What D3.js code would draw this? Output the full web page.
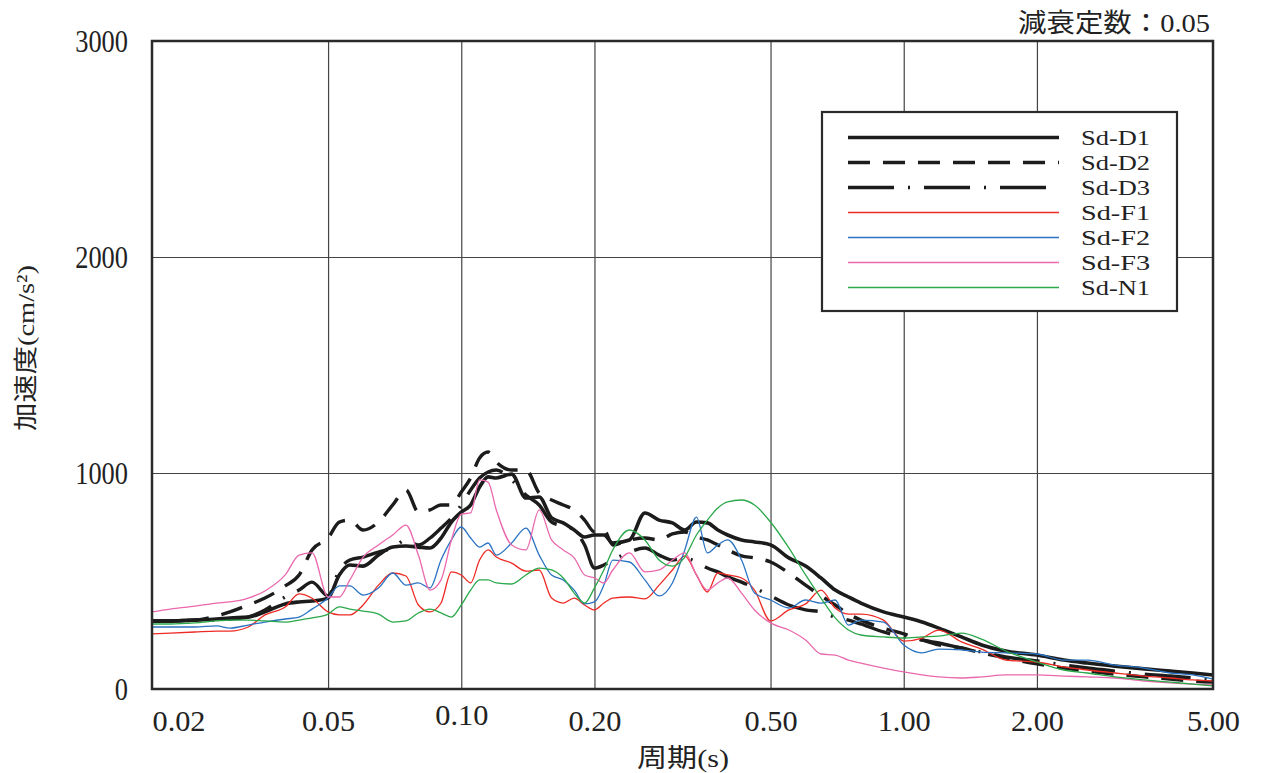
<!DOCTYPE html>
<html lang="ja">
<head>
<meta charset="UTF-8">
<title>加速度応答スペクトル</title>
<script src="https://cdn.jsdelivr.net/npm/d3@7"></script>
<style>
  body { margin: 0; background: #fff; }
  svg text { font-family: "Liberation Serif", "Noto Sans CJK JP", serif; fill: #222; }
</style>
</head>
<body>
<div id="chart"></div>
<script>
// periods (s), shared by every series
const periods = [0.02, 0.022, 0.025, 0.028, 0.03, 0.033, 0.036, 0.04, 0.043, 0.046,
  0.05, 0.053, 0.056, 0.06, 0.065, 0.07, 0.075, 0.08, 0.085, 0.09, 0.095,
  0.1, 0.105, 0.11, 0.115, 0.12, 0.13, 0.14, 0.15, 0.16, 0.17, 0.18, 0.19,
  0.2, 0.21, 0.22, 0.24, 0.26, 0.28, 0.3, 0.32, 0.34, 0.36, 0.38, 0.4, 0.43, 0.46,
  0.5, 0.55, 0.6, 0.65, 0.7, 0.75, 0.8, 0.9, 1.0, 1.1, 1.2, 1.35, 1.5, 1.7,
  2.0, 2.3, 2.6, 3.0, 3.5, 4.0, 4.5, 5.0];

// acceleration (cm/s2)
const sdD1 = [315, 315, 319, 324, 329, 333, 357, 394, 403, 407,
  421, 528, 574, 569, 620, 657, 662, 657, 653, 699, 773,
  819, 852, 935, 982, 977, 995, 884, 889, 792, 769, 736, 704,
  713, 713, 676, 690, 815, 782, 769, 736, 773, 769, 736, 713, 690, 681,
  667, 607, 569, 514, 458, 426, 398, 357, 333, 310, 282, 241, 204, 176,
  157, 134, 120, 106, 93, 83, 74, 65];
const sdD2 = [315, 315, 319, 338, 357, 389, 421, 477, 528, 644,
  699, 773, 782, 736, 773, 852, 921, 820, 829, 852, 852,
  912, 977, 1070, 1097, 1051, 1014, 1014, 907, 875, 852, 829, 782,
  727, 736, 667, 690, 699, 690, 718, 727, 704, 690, 667, 644, 616, 607,
  588, 537, 481, 431, 389, 347, 319, 282, 255, 227, 204, 190, 167, 144,
  116, 97, 83, 69, 56, 46, 37, 32];
const sdD3 = [315, 315, 319, 319, 324, 333, 366, 426, 458, 495,
  431, 551, 597, 611, 634, 653, 690, 667, 699, 745, 792,
  852, 921, 977, 1005, 1014, 968, 898, 852, 773, 755, 736, 667,
  560, 574, 597, 634, 653, 620, 597, 607, 588, 560, 542, 519, 495, 468,
  431, 389, 366, 357, 333, 319, 301, 264, 241, 227, 213, 190, 171, 148,
  130, 111, 97, 83, 69, 60, 51, 42];
const sdF1 = [255, 259, 264, 268, 268, 287, 343, 380, 440, 420,
  357, 343, 343, 389, 481, 537, 523, 389, 357, 398, 542,
  528, 491, 597, 644, 611, 583, 546, 551, 421, 398, 421, 389,
  366, 398, 421, 426, 417, 481, 551, 616, 528, 449, 537, 528, 514, 458,
  315, 366, 394, 458, 375, 347, 347, 319, 222, 236, 273, 218, 185, 134,
  125, 102, 88, 74, 60, 51, 42, 37];
const sdF2 = [287, 287, 287, 292, 282, 296, 310, 324, 333, 370,
  421, 477, 477, 435, 468, 537, 481, 491, 468, 597, 690,
  750, 699, 657, 676, 620, 676, 745, 620, 528, 505, 458, 394,
  403, 481, 597, 588, 505, 431, 491, 644, 796, 630, 667, 690, 597, 444,
  412, 375, 412, 398, 412, 296, 319, 310, 204, 167, 185, 181, 171, 167,
  162, 134, 134, 111, 97, 74, 65, 46];
const sdF3 = [357, 370, 384, 398, 403, 421, 454, 528, 620, 630,
  426, 426, 505, 611, 667, 713, 759, 620, 458, 505, 690,
  810, 815, 968, 958, 829, 667, 644, 829, 690, 644, 607, 528,
  514, 491, 551, 630, 542, 551, 597, 630, 528, 458, 491, 514, 444, 366,
  306, 273, 227, 162, 157, 134, 120, 97, 79, 65, 56, 51, 56, 65,
  65, 60, 56, 51, 37, 28, 23, 19];
const sdN1 = [301, 301, 306, 315, 319, 319, 315, 310, 319, 329,
  347, 380, 370, 361, 347, 310, 315, 352, 370, 352, 333,
  389, 458, 505, 505, 491, 486, 528, 560, 551, 514, 444, 398,
  468, 551, 644, 736, 690, 597, 569, 611, 713, 782, 838, 866, 875, 852,
  773, 653, 528, 421, 329, 273, 250, 241, 236, 241, 245, 259, 231, 176,
  125, 88, 74, 56, 42, 32, 23, 14];

const seriesNames = ["Sd-D1", "Sd-D2", "Sd-D3", "Sd-F1", "Sd-F2", "Sd-F3", "Sd-N1"];
const seriesValues = [sdD1, sdD2, sdD3, sdF1, sdF2, sdF3, sdN1];

const xTicks = [0.02, 0.05, 0.1, 0.2, 0.5, 1, 2, 5];
const xTickLabels = ["0.02", "0.05", "0.10", "0.20", "0.50", "1.00", "2.00", "5.00"];
const xGrid = [0.05, 0.1, 0.2, 0.5, 1, 2];
const yTicks = [0, 1000, 2000, 3000];
const yGrid = [1000, 2000];

// drawing styles, by series
const styles = [
  {color: "#1c1c1c", width: 3.6, dash: null},
  {color: "#1c1c1c", width: 3.4, dash: "22,13"},
  {color: "#1c1c1c", width: 3.4, dash: "46,14,2,14"},
  {color: "#ee2a24", width: 1.3, dash: null},
  {color: "#2a73c2", width: 1.3, dash: null},
  {color: "#ea68ad", width: 1.3, dash: null},
  {color: "#2aa84a", width: 1.3, dash: null}
];

const W = 1261, H = 773;
const plotL = 152, plotR = 1213, plotT = 41, plotB = 689;

const svg = d3.select("#chart").append("svg")
  .attr("width", W).attr("height", H);

const x = d3.scaleLog().domain([0.02, 5]).range([plotL, plotR]);
const y = d3.scaleLinear().domain([0, 3000]).range([plotB, plotT]);

// grid
svg.append("g")
  .attr("transform", `translate(0,${plotB})`)
  .call(d3.axisBottom(x).tickValues(xGrid).tickFormat("").tickSize(-(plotB - plotT)))
  .call(g => g.select(".domain").remove())
  .call(g => g.selectAll("line").attr("stroke", "#444").attr("stroke-width", 1.2));
svg.append("g")
  .attr("transform", `translate(${plotL},0)`)
  .call(d3.axisLeft(y).tickValues(yGrid).tickFormat("").tickSize(-(plotR - plotL)))
  .call(g => g.select(".domain").remove())
  .call(g => g.selectAll("line").attr("stroke", "#444").attr("stroke-width", 1.2));

// curves
const line = d3.line()
  .x((d, i) => x(periods[i]))
  .y(d => y(d))
  .curve(d3.curveMonotoneX);

svg.append("g").selectAll("path")
  .data(seriesValues)
  .join("path")
  .attr("fill", "none")
  .attr("d", d => line(d))
  .attr("stroke", (d, i) => styles[i].color)
  .attr("stroke-width", (d, i) => styles[i].width)
  .attr("stroke-dasharray", (d, i) => styles[i].dash)
  .attr("stroke-linejoin", "round");

// frame
svg.append("rect")
  .attr("x", plotL).attr("y", plotT)
  .attr("width", plotR - plotL).attr("height", plotB - plotT)
  .attr("fill", "none").attr("stroke", "#2a2a2a").attr("stroke-width", 2.5);

// x tick labels
const gx = svg.append("g")
  .attr("transform", `translate(0,${plotB})`)
  .call(d3.axisBottom(x).tickValues(xTicks).tickFormat((d, i) => xTickLabels[i]).tickSize(0).tickPadding(0));
gx.select(".domain").remove();
gx.selectAll("text")
  .attr("font-size", 30)
  .attr("fill", "#222")
  .attr("dy", (d, i) => i === 2 ? 36 : 42)
  .attr("text-anchor", (d, i) => i === 0 ? "start" : "middle")
  .attr("textLength", 53)
  .attr("lengthAdjust", "spacingAndGlyphs")
  .style("font-family", "'Liberation Serif', serif");

// y tick labels
const gy = svg.append("g")
  .attr("transform", `translate(${plotL},0)`)
  .call(d3.axisLeft(y).tickValues(yTicks).tickFormat(d3.format("d")).tickSize(0).tickPadding(24));
gy.select(".domain").remove();
gy.selectAll("text")
  .attr("font-size", 31)
  .attr("fill", "#222")
  .attr("dy", "0.34em")
  .attr("textLength", d => String(d).length * 13.2)
  .attr("lengthAdjust", "spacingAndGlyphs")
  .style("font-family", "'Liberation Serif', serif");

// axis titles
svg.append("text")
  .attr("x", 683).attr("y", 767)
  .attr("text-anchor", "middle")
  .attr("font-size", 26)
  .attr("textLength", 92).attr("lengthAdjust", "spacingAndGlyphs")
  .text("周期(s)");

svg.append("text")
  .attr("transform", "translate(34,348) rotate(-90)")
  .attr("text-anchor", "middle")
  .attr("font-size", 24)
  .attr("textLength", 166).attr("lengthAdjust", "spacingAndGlyphs")
  .text("加速度(cm/s²)");

svg.append("text")
  .attr("x", 1210).attr("y", 32)
  .attr("text-anchor", "end")
  .attr("font-size", 26)
  .attr("textLength", 192).attr("lengthAdjust", "spacingAndGlyphs")
  .text("減衰定数：0.05");

// legend
const legend = svg.append("g");
legend.append("rect")
  .attr("x", 822).attr("y", 112).attr("width", 355).attr("height", 199)
  .attr("fill", "#fff").attr("stroke", "#2a2a2a").attr("stroke-width", 2.2);

const rows = legend.selectAll("g.row")
  .data(seriesNames)
  .join("g")
  .attr("class", "row")
  .attr("transform", (d, i) => `translate(0,${137.5 + i * 25})`);
rows.append("line")
  .attr("x1", 848).attr("x2", 1059)
  .attr("stroke", (d, i) => styles[i].color)
  .attr("stroke-width", (d, i) => styles[i].width)
  .attr("stroke-dasharray", (d, i) => styles[i].dash);
rows.append("text")
  .attr("x", 1081).attr("y", 0)
  .attr("dy", "0.36em")
  .attr("font-size", 22)
  .attr("textLength", 69).attr("lengthAdjust", "spacingAndGlyphs")
  .text(d => d);
</script>
</body>
</html>
